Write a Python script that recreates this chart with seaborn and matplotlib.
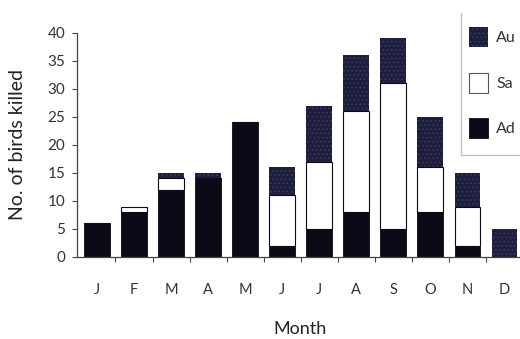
import numpy as np
import pandas as pd
import matplotlib
matplotlib.use("Agg")
import matplotlib.pyplot as plt
from matplotlib.patches import Patch
from matplotlib.lines import Line2D
import seaborn as sns

months = ["J", "F", "M", "A", "M", "J", "J", "A", "S", "O", "N", "D"]
adults = [6, 8, 12, 14, 24, 2, 5, 8, 5, 8, 2, 0]
subadults = [0, 1, 2, 0, 0, 9, 12, 18, 26, 8, 7, 0]
autumn = [0, 0, 1, 1, 0, 5, 10, 10, 8, 9, 6, 5]
legend_labels = ["Au", "Sa", "Ad"]
y_ticks = [0, 5, 10, 15, 20, 25, 30, 35, 40]

sns.set_style("ticks")
plt.rcParams["font.family"] = ["Lato", "DejaVu Sans"]
plt.rcParams["hatch.linewidth"] = 0.6

pos = np.arange(len(months))
df = pd.DataFrame({"pos": pos, "Ad": adults, "Sa": subadults, "Au": autumn})
df["sa_bottom"] = df["Ad"]
df["au_bottom"] = df["Ad"] + df["Sa"]

fig = plt.figure(figsize=(5.2, 3.39), dpi=100)
ax = fig.add_axes([77 / 520, 0.2419, (540 - 77) / 520, 0.6616])

ink = "#0b0b18"
navy = "#1d1d3c"
speck = "#3c3c66"
bar_w = 0.68

sns.barplot(data=df, x="pos", y="Ad", ax=ax, color=ink, width=bar_w,
            native_scale=True, edgecolor=ink, linewidth=0.6, saturation=1)
sns.barplot(data=df, x="pos", y="Sa", ax=ax, color="white", width=bar_w,
            native_scale=True, bottom=df["sa_bottom"], edgecolor=ink,
            linewidth=0.8, saturation=1)
sns.barplot(data=df, x="pos", y="Au", ax=ax, color=navy, width=bar_w,
            native_scale=True, bottom=df["au_bottom"], edgecolor=speck,
            linewidth=0, hatch="....", saturation=1)

ax.set_xlim(-0.54, 11.97)
ax.set_ylim(0, 40)
ax.set_yticks(y_ticks)
ax.set_xticks(pos)
ax.set_xticklabels(months)
ax.set_xticks(pos[:-1] + 0.5, minor=True)
ax.tick_params(axis="x", which="major", length=0, pad=19, labelsize=10.5,
               labelcolor="#333333")
ax.tick_params(axis="x", which="minor", length=3.5, width=0.8,
               color="#444444", direction="out")
ax.tick_params(axis="y", length=3.5, width=0.8, color="#444444", pad=5,
               labelsize=11, labelcolor="#333333")
ax.set_xlabel("")
ax.set_ylabel("")

for side in ["top", "right"]:
    ax.spines[side].set_visible(False)
for side in ["left", "bottom"]:
    ax.spines[side].set_color("#444444")
    ax.spines[side].set_linewidth(0.9)

fig.text(18 / 520, 1 - 145 / 339, "No. of birds killed", rotation=90,
         ha="center", va="center", fontsize=14, color="#222222")
fig.text(300 / 520, 1 - 329 / 339, "Month", ha="center", va="center",
         fontsize=13, color="#222222")

# legend box: only left and bottom edges fall inside the canvas
frame_col = "#bdbdbd"
fig.add_artist(Line2D([461 / 520, 461 / 520], [1 - 13 / 339, 1 - 155 / 339],
                      transform=fig.transFigure, color=frame_col, lw=0.9))
fig.add_artist(Line2D([461 / 520, 1.05], [1 - 155 / 339, 1 - 155 / 339],
                      transform=fig.transFigure, color=frame_col, lw=0.9))

handles = [
    Patch(facecolor=navy, edgecolor=speck, linewidth=0, hatch="...."),
    Patch(facecolor="white", edgecolor="#555555", linewidth=0.8),
    Patch(facecolor=ink, edgecolor=ink, linewidth=0.6),
]
leg = fig.legend(handles, legend_labels, loc="upper left",
                 bbox_to_anchor=(469 / 520, 1 - 27 / 339), frameon=False,
                 fontsize=11.5, handlelength=1.2, handleheight=1.55,
                 handletextpad=0.5, labelspacing=1.6, borderpad=0,
                 borderaxespad=0)
for t in leg.get_texts():
    t.set_color("#333333")

fig.savefig("out.png", dpi=100)
